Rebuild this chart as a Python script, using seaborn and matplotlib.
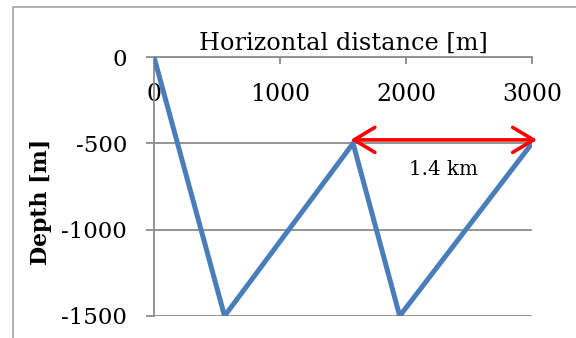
import matplotlib
matplotlib.use("Agg")
import matplotlib.pyplot as plt
from matplotlib.lines import Line2D
import seaborn as sns
import pandas as pd

# Well path: horizontal distance vs. depth
distance_m = [0, 560, 1580, 1950, 3000]
depth_m = [0, -1500, -500, -1500, -500]

x_ticks = [0, 1000, 2000, 3000]
y_ticks = [0, -500, -1000, -1500]

# Span marker between the two shallow turning points
span_start = 1560
span_end = 3040
span_depth = -480
span_label = "1.4 km"
span_label_x = 2300
span_label_y = -650

sns.set_theme(style="white")
plt.rcParams["font.family"] = ["DejaVu Serif"]
plt.rcParams["text.color"] = "black"
plt.rcParams["axes.labelcolor"] = "black"
plt.rcParams["xtick.color"] = "black"
plt.rcParams["ytick.color"] = "black"

W, H = 576, 338
fig = plt.figure(figsize=(W / 100, H / 100), dpi=100)
fig.patch.set_facecolor("white")
ax = fig.add_axes([154 / W, 22 / H, 378 / W, 259 / H])

df = pd.DataFrame({"distance": distance_m, "depth": depth_m})
sns.lineplot(data=df, x="distance", y="depth", sort=False, estimator=None,
             color="#4a7ebb", linewidth=3.6, ax=ax,
             solid_joinstyle="miter", solid_capstyle="butt", zorder=3)

ax.set_xlim(0, 3000)
ax.set_ylim(-1500, 0)
ax.set_xticks(x_ticks)
ax.set_yticks(y_ticks)
ax.set_xticklabels([str(v) for v in x_ticks])
ax.set_yticklabels([str(v) for v in y_ticks])
ax.set_xlabel("")
ax.set_ylabel("")

grid_col = "#8c8c8c"
ax.yaxis.grid(True, color=grid_col, linewidth=1.3)
ax.xaxis.grid(False)
ax.set_axisbelow(True)

for side in ("bottom", "right"):
    ax.spines[side].set_visible(False)
for side in ("top", "left"):
    ax.spines[side].set_color(grid_col)
    ax.spines[side].set_linewidth(1.3)

ax.xaxis.tick_top()
ax.tick_params(axis="x", direction="in", length=5, width=1.3, color=grid_col,
               pad=-35, labelsize=17)
ax.tick_params(axis="y", direction="out", length=6, width=1.3, color=grid_col,
               pad=13.5, labelsize=16.5, left=True)

ax.annotate("", xy=(span_end, span_depth), xytext=(span_start, span_depth),
            arrowprops=dict(arrowstyle="<->,head_length=0.75,head_width=0.45",
                            color="#ff0000", lw=2.6, shrinkA=0, shrinkB=0,
                            mutation_scale=20),
            annotation_clip=False, zorder=4)
ax.text(span_label_x, span_label_y, span_label, ha="center", va="center",
        fontsize=14.3)

fig.text(343 / W, 1 - 50 / H, "Horizontal distance [m]", ha="center",
         va="baseline", fontsize=17.3)
fig.text(41 / W, 1 - 202 / H, "Depth [m]", ha="center", va="center",
         rotation=90, fontsize=15.8, fontweight="bold")

# Chart frame
frame_col = "#a6a6a6"
fig.add_artist(Line2D([13 / W, 13 / W], [0, 1 - 7 / H], transform=fig.transFigure,
                      color=frame_col, linewidth=1.2))
fig.add_artist(Line2D([13 / W, 1], [1 - 7 / H, 1 - 7 / H], transform=fig.transFigure,
                      color=frame_col, linewidth=1.2))

fig.savefig("out.png", dpi=100)
